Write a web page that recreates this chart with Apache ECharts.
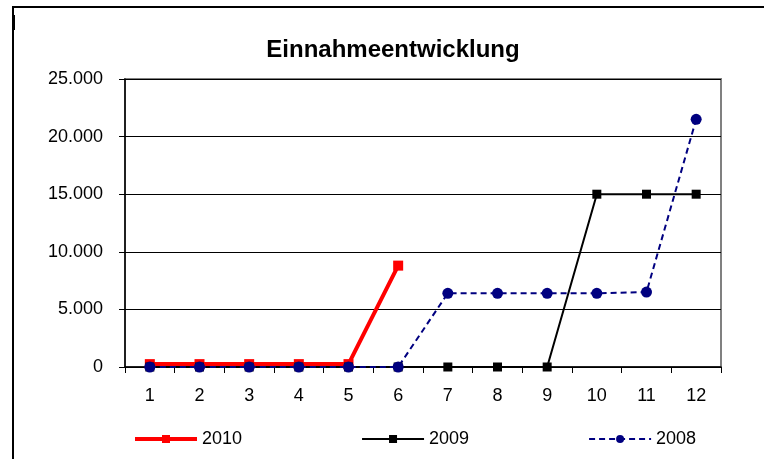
<!DOCTYPE html>
<html>
<head>
<meta charset="utf-8">
<script src="https://cdn.jsdelivr.net/npm/echarts@6/dist/echarts.min.js"></script>
<style>
  html, body { margin: 0; padding: 0; background: #fff; }
  #main { width: 764px; height: 459px; }
</style>
</head>
<body>
<div id="main"></div>
<script>
const months = ["1", "2", "3", "4", "5", "6", "7", "8", "9", "10", "11", "12"];
const values2010 = [250, 250, 250, 250, 250, 8800];
const values2009 = [0, 0, 0, 0, 0, 0, 0, 0, 0, 15000, 15000, 15000];
const values2008 = [0, 0, 0, 0, 0, 0, 6400, 6400, 6400, 6400, 6500, 21500];

// German thousands separator, e.g. 25.000
function fmt(v) {
  return String(v).replace(/\B(?=(\d{3})+(?!\d))/g, ".");
}

const chart = echarts.init(document.getElementById("main"));

const option = {
  animation: false,
  title: {
    text: "Einnahmeentwicklung",
    left: 388,
    textAlign: "center",
    top: 33,
    textStyle: { fontFamily: "Liberation Sans", fontSize: 24, fontWeight: "bold", color: "#000" },
  },
  graphic: [
    {
      type: "rect",
      shape: { x: 13, y: 7, width: 800, height: 500 },
      style: { fill: "none", stroke: "#000", lineWidth: 2 },
      silent: true,
    },
    {
      type: "rect",
      shape: { x: 12, y: 15, width: 3, height: 15 },
      style: { fill: "#000" },
      silent: true,
    },
  ],
  legend: {
    top: 425,
    left: 128,
    itemGap: 119,
    itemWidth: 62,
    itemHeight: 10,
    textStyle: { fontFamily: "Liberation Sans", fontSize: 18, color: "#000" },
    data: [
      { name: "2010", lineStyle: { width: 4 } },
      { name: "2009", lineStyle: { width: 2 } },
      { name: "2008", lineStyle: { width: 2 } },
    ],
  },
  grid: {
    left: 125,
    right: 43,
    top: 79,
    bottom: 92,
    show: true,
    borderColor: "#808080",
    borderWidth: 2,
    backgroundColor: "#fff",
  },
  xAxis: {
    type: "category",
    data: months,
    boundaryGap: true,
    axisLine: { lineStyle: { color: "#000", width: 1.5 } },
    axisTick: { show: true, length: 6, lineStyle: { color: "#000" } },
    axisLabel: { fontFamily: "Liberation Sans", fontSize: 18, color: "#000", margin: 20 },
  },
  yAxis: {
    type: "value",
    min: 0,
    max: 25000,
    interval: 5000,
    axisLine: { show: true, lineStyle: { color: "#000", width: 1.5 } },
    axisTick: { show: true, length: 6, lineStyle: { color: "#000" } },
    splitLine: { lineStyle: { color: "#000", width: 1 } },
    axisLabel: {
      fontFamily: "Liberation Sans",
      fontSize: 18,
      color: "#000",
      margin: 22,
      formatter: fmt,
    },
  },
  series: [
    {
      name: "2010",
      type: "line",
      data: values2010,
      symbol: "rect",
      symbolSize: 10,
      itemStyle: { color: "#ff0000" },
      lineStyle: { color: "#ff0000", width: 4 },
    },
    {
      name: "2009",
      type: "line",
      data: values2009,
      symbol: "rect",
      symbolSize: 9,
      itemStyle: { color: "#000" },
      lineStyle: { color: "#000", width: 2 },
    },
    {
      name: "2008",
      type: "line",
      data: values2008,
      symbol: "circle",
      symbolSize: 11,
      itemStyle: { color: "#000080" },
      lineStyle: { color: "#000080", width: 2, type: [6, 4] },
    },
  ],
};

chart.setOption(option);
</script>
</body>
</html>
